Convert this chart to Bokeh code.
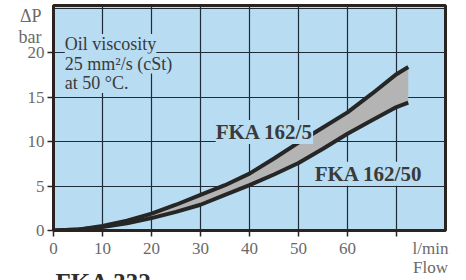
from bokeh.plotting import figure
from bokeh.models import FixedTicker, Label, Range1d, Title, AllLabels
from bokeh.embed import file_html
from bokeh.resources import INLINE

# Data
flow = [0, 5, 10, 15, 20, 25, 30, 35, 40, 45, 50, 55, 60, 65, 70, 72.4]
dp_fka162_5 = [0, 0.1, 0.5, 1.1, 1.9, 2.9, 4.0, 5.1, 6.4, 8.1, 9.9, 11.6, 13.3, 15.4, 17.6, 18.4]
dp_fka162_50 = [0, 0.1, 0.4, 0.8, 1.4, 2.1, 2.9, 4.0, 5.1, 6.3, 7.6, 9.2, 10.9, 12.4, 13.9, 14.4]
x_ticks = [0, 10, 20, 30, 40, 50, 60, 70]
y_ticks = [0, 5, 10, 15, 20]
x_grid = [10, 20, 30, 40, 50, 60, 70]
y_grid = [5, 10, 15, 20, 25]

BLUE = "#b8dcf1"
DARK = "#262626"
GREY_TXT = "#6a6a6a"
SERIF = "Liberation Serif"
NB = "\u00a0" * 16

p = figure(width=466, height=280, output_backend="svg", toolbar_location=None,
           x_range=Range1d(0, 80), y_range=Range1d(0, 25.33),
           min_border_left=53, min_border_right=21, min_border_top=5, min_border_bottom=47)

p.background_fill_color = BLUE
p.border_fill_color = "white"
p.outline_line_color = "#2a2320"
p.outline_line_width = 3

p.xgrid.ticker = FixedTicker(ticks=x_grid)
p.ygrid.ticker = FixedTicker(ticks=y_grid)
for g in (p.xgrid, p.ygrid):
    g.grid_line_color = "#1f2b36"
    g.grid_line_width = 1.2
    g.grid_line_alpha = 1.0

p.xaxis.ticker = FixedTicker(ticks=x_ticks)
p.yaxis.ticker = FixedTicker(ticks=y_ticks)
p.xaxis.major_label_overrides = {70: NB + "l/min\n" + NB + "Flow"}
p.xaxis.major_label_policy = AllLabels()
p.xaxis.major_label_text_line_height = 1.05
for ax in (p.xaxis, p.yaxis):
    ax.axis_line_color = "#2a2320"
    ax.axis_line_width = 3
    ax.major_tick_out = 6
    ax.major_tick_in = 0
    ax.major_tick_line_color = DARK
    ax.major_tick_line_width = 1.5
    ax.minor_tick_line_color = None
    ax.major_label_text_font = SERIF
    ax.major_label_text_font_size = "17px"
    ax.major_label_text_color = GREY_TXT
    ax.axis_label_text_font = SERIF
    ax.axis_label_text_font_style = "normal"
    ax.axis_label_text_color = GREY_TXT
p.xaxis.major_label_standoff = 2
p.yaxis.major_label_standoff = 3

p.yaxis.axis_label = "\n\n\u0394P\nbar"
p.yaxis.axis_label_align = "end"
p.yaxis.axis_label_orientation = "horizontal"
p.yaxis.axis_label_text_font_size = "18px"
p.yaxis.axis_label_text_line_height = 1.05
p.yaxis.axis_label_standoff = -17

p.add_layout(Title(text="FKA 332", align="left", offset=2, standoff=-30,
                   text_font=SERIF, text_font_size="25px", text_font_style="bold",
                   text_color="#2e2e2e"), "below")

p.varea(x=flow, y1=dp_fka162_50, y2=dp_fka162_5, fill_color="#b4b4b4", fill_alpha=1)
p.line(flow, dp_fka162_5, line_color=DARK, line_width=4)
p.line(flow, dp_fka162_50, line_color=DARK, line_width=4)

def lab(x, y, text, size, bold=False, color="#3a3a3a"):
    p.add_layout(Label(x=x, y=y, text=text, text_font=SERIF, text_font_size=size,
                       text_font_style="bold" if bold else "normal",
                       text_baseline="alphabetic", text_color=color,
                       background_fill_color=BLUE))

lab(2.3, 21.0, "Oil viscosity", "18px")
lab(2.3, 18.8, "25 mm\u00b2/s (cSt)", "18px")
lab(2.3, 16.6, "at 50 \u00b0C.", "18px")
lab(33.1, 11.1, "FKA 162/5", "21px", bold=True)
lab(53.3, 6.4, "FKA 162/50", "21px", bold=True)

open("out.html", "w").write(file_html(p, INLINE))
